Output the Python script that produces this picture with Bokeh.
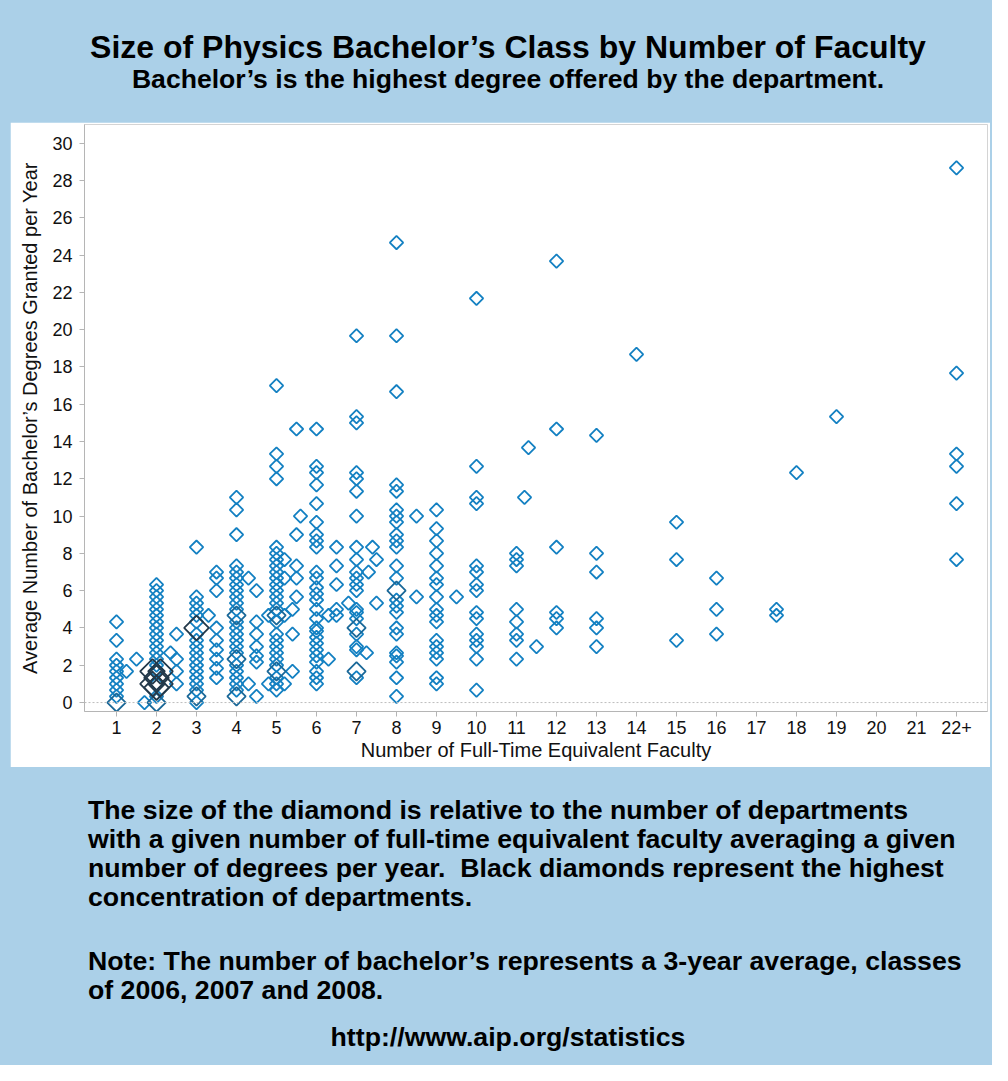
import numpy as np
from bokeh.plotting import figure
from bokeh.models import Range1d, FixedTicker, Span, Div
from bokeh.layouts import column
from bokeh.embed import file_html
from bokeh.resources import INLINE

# ---------------- data ----------------
# faculty values (x) and the average number of bachelor's degrees (y) of the
# departments plotted at that faculty value
faculty = [1, 1.25, 1.5, 1.7, 2, 2.35, 2.5, 3, 3.3, 3.5, 4, 4.3, 4.5, 4.8,
           5, 5.2, 5.4, 5.5, 5.6, 6, 6.3, 6.5, 6.8, 7, 7.25, 7.3, 7.4, 7.5,
           8, 8.5, 9, 9.5, 10, 11, 11.2, 11.3, 11.5, 12, 13, 14, 15, 16,
           17.5, 18, 19, 22]
degrees = [
    [4.33, 3.33, 2.33, 2.0, 1.67, 1.33, 1.0, 0.67, 0.33],
    [1.67],
    [2.33],
    [0.0],
    [6.33, 6.0, 5.67, 5.33, 5.0, 4.67, 4.33, 4.0, 3.67, 3.33, 3.0, 2.67, 2.33, 2.0, 1.67, 1.0, 0.33],
    [2.67],
    [3.67, 2.33, 1.67, 1.0],
    [8.33, 5.67, 5.33, 5.0, 4.67, 4.33, 3.67, 3.33, 3.0, 2.67, 2.33, 2.0, 1.67, 1.33, 1.0, 0.67, 0.0],
    [4.67],
    [7.0, 6.67, 6.0, 4.0, 3.33, 2.83, 2.33, 1.83, 1.33],
    [11.0, 10.33, 9.0, 7.33, 7.0, 6.67, 6.33, 6.0, 5.67, 5.33, 5.0, 4.33, 4.0, 3.67, 3.33, 3.0, 2.67, 2.0, 1.67, 1.33, 1.0, 0.67],
    [6.67, 1.0],
    [6.0, 4.33, 3.67, 3.0, 2.5, 2.17, 0.33],
    [4.67, 1.0],
    [17.0, 13.33, 12.67, 12.0, 8.33, 8.0, 7.67, 7.33, 7.0, 6.67, 6.33, 6.0, 5.67, 5.33, 5.0, 4.33, 3.67, 3.33, 3.0, 2.67, 2.33, 2.0, 1.33, 1.0, 0.67],
    [7.67, 6.67, 4.67, 1.0],
    [5.0, 3.67, 1.67],
    [14.67, 9.0, 7.33, 6.67, 5.67],
    [10.0],
    [14.67, 12.67, 12.33, 11.67, 10.67, 9.67, 9.0, 8.67, 8.33, 7.0, 6.67, 6.17, 5.83, 5.5, 5.0, 4.5, 4.0, 3.83, 3.5, 3.17, 2.83, 2.5, 2.17, 1.67, 1.33, 1.0],
    [4.67, 2.33],
    [8.33, 7.33, 6.33, 5.0, 4.67],
    [5.33],
    [19.67, 15.33, 15.0, 12.33, 12.0, 11.33, 10.0, 8.33, 7.67, 7.0, 6.67, 6.33, 6.0, 5.0, 4.83, 4.5, 3.67, 3.0, 2.83, 1.33],
    [2.67],
    [7.0],
    [8.33],
    [7.67, 5.33],
    [24.67, 19.67, 16.67, 11.67, 11.33, 10.33, 10.0, 9.67, 9.0, 8.67, 8.33, 7.33, 6.67, 5.5, 5.17, 4.83, 4.0, 3.67, 2.67, 2.5, 2.17, 1.33, 0.33],
    [10.0, 5.67],
    [10.33, 9.33, 8.67, 8.0, 7.33, 6.67, 6.33, 5.67, 5.0, 4.67, 4.33, 3.33, 3.0, 2.67, 2.33, 1.33, 1.0],
    [5.67],
    [21.67, 12.67, 11.0, 10.67, 7.33, 7.0, 6.33, 6.0, 4.83, 4.5, 3.67, 3.33, 3.0, 2.33, 0.67],
    [8.0, 7.67, 7.33, 5.0, 4.33, 3.67, 3.33, 2.33],
    [11.0],
    [13.67],
    [3.0],
    [23.67, 14.67, 8.33, 4.83, 4.5, 4.0],
    [14.33, 8.0, 7.0, 4.5, 4.0, 3.0],
    [18.67],
    [9.67, 7.67, 3.33],
    [6.67, 5.0, 3.67],
    [5.0, 4.67],
    [12.33],
    [15.33],
    [28.67, 17.67, 13.33, 12.67, 10.67, 7.67],
]

# several departments at the same point (bigger diamonds)
multi_faculty = [1, 2, 3, 4, 4, 4, 5, 5, 7, 7, 8]
multi_degrees = [0.0, 0.0, 0.33, 4.67, 2.33, 0.33, 4.67, 1.67, 4.0, 1.67, 6.0]

# highest concentration of departments (black diamonds)
top_faculty = [1.9, 2.1, 2.0, 1.9, 2.1, 2.0, 3.0]
top_degrees = [1.67, 1.67, 1.33, 1.0, 1.0, 0.8, 4.0]

x_ticks = list(range(1, 23))
x_labels = {22: "22+"}
y_ticks = list(range(0, 31, 2))

# ---------------- figure ----------------
FONT = "Liberation Sans"
BLUE_BG = "#abd0e8"

single_x = [f for f, ys in zip(faculty, degrees) for _ in ys]
single_y = [y for ys in degrees for y in ys]

p = figure(width=980, height=645,
           x_range=Range1d(0.2, 22.775), y_range=Range1d(-0.48, 31.0),
           output_backend="svg", toolbar_location=None,
           min_border_left=74, min_border_right=3, min_border_top=2,
           min_border_bottom=56, border_fill_color="white",
           background_fill_color="white", outline_line_color="#d4d4d4",
           margin=(0, 2, 0, 10))

p.add_layout(Span(location=0, dimension="width", line_color="#bdbdbd",
                  line_dash="2 2", line_width=1))

p.scatter(x=single_x, y=single_y, marker="square", angle=np.pi / 4,
          size=9.5, fill_color=None, line_color="#1380c2", line_width=1.8)
p.scatter(x=multi_faculty, y=multi_degrees, marker="square", angle=np.pi / 4,
          size=13, fill_color=None, line_color="#1a6898", line_width=1.8)
p.scatter(x=top_faculty, y=top_degrees, marker="square", angle=np.pi / 4,
          size=17.5, fill_color=None, line_color="#23394a", line_width=1.8)

p.xgrid.visible = False
p.ygrid.visible = False

p.xaxis.ticker = FixedTicker(ticks=x_ticks)
p.xaxis.major_label_overrides = x_labels
p.yaxis.ticker = FixedTicker(ticks=y_ticks)
p.xaxis.axis_label = "Number of Full-Time Equivalent Faculty"
p.yaxis.axis_label = "Average Number of Bachelor\u2019s Degrees Granted per Year"

for ax in (p.xaxis[0], p.yaxis[0]):
    ax.axis_line_color = "#b5b5b5"
    ax.major_tick_line_color = "#b5b5b5"
    ax.minor_tick_line_color = None
    ax.major_tick_out = 5
    ax.major_tick_in = 0
    ax.major_label_text_font = FONT
    ax.major_label_text_font_size = "18px"
    ax.major_label_text_color = "#111111"
    ax.axis_label_text_font = FONT
    ax.axis_label_text_font_size = "20px"
    ax.axis_label_text_font_style = "normal"
    ax.axis_label_text_color = "#111111"
p.xaxis.major_label_standoff = 4
p.xaxis.axis_label_standoff = 2
p.yaxis.major_label_standoff = 7
p.yaxis.axis_label_standoff = 8

title_html = (
    f"<div style=\"font-family:'{FONT}';font-weight:bold;color:#000;text-align:center;width:992px;\">"
    "<div style='font-size:32px;line-height:34px;padding-top:30px;padding-left:24px;'>"
    "Size of Physics Bachelor\u2019s Class by Number of Faculty</div>"
    "<div style='font-size:26.6px;line-height:30px;padding-left:24px;'>"
    "Bachelor\u2019s is the highest degree offered by the department.</div></div>"
)
title_div = Div(text=title_html, width=992, height=122, margin=(0, 0, 0, 0))

notes_html = (
    f"<div style=\"font-family:'{FONT}';font-weight:bold;color:#000;font-size:26.7px;line-height:29px;width:992px;\">"
    "<div style='padding-left:88px;padding-top:29px;'>"
    "The size of the diamond is relative to the number of departments<br>"
    "with a given number of full-time equivalent faculty averaging a given<br>"
    "number of degrees per year.&nbsp; Black diamonds represent the highest<br>"
    "concentration of departments.</div>"
    "<div style='padding-left:88px;padding-top:35px;'>"
    "Note: The number of bachelor\u2019s represents a 3-year average, classes<br>"
    "of 2006, 2007 and 2008.</div>"
    "<div style='text-align:center;padding-top:18px;padding-left:24px;'>http://www.aip.org/statistics</div>"
    "</div>"
)
notes_div = Div(text=notes_html, width=992, height=298, margin=(0, 0, 0, 0))

layout = column(title_div, p, notes_div, spacing=0,
                styles={"background-color": BLUE_BG})

open("out.html", "w").write(file_html(layout, INLINE))
